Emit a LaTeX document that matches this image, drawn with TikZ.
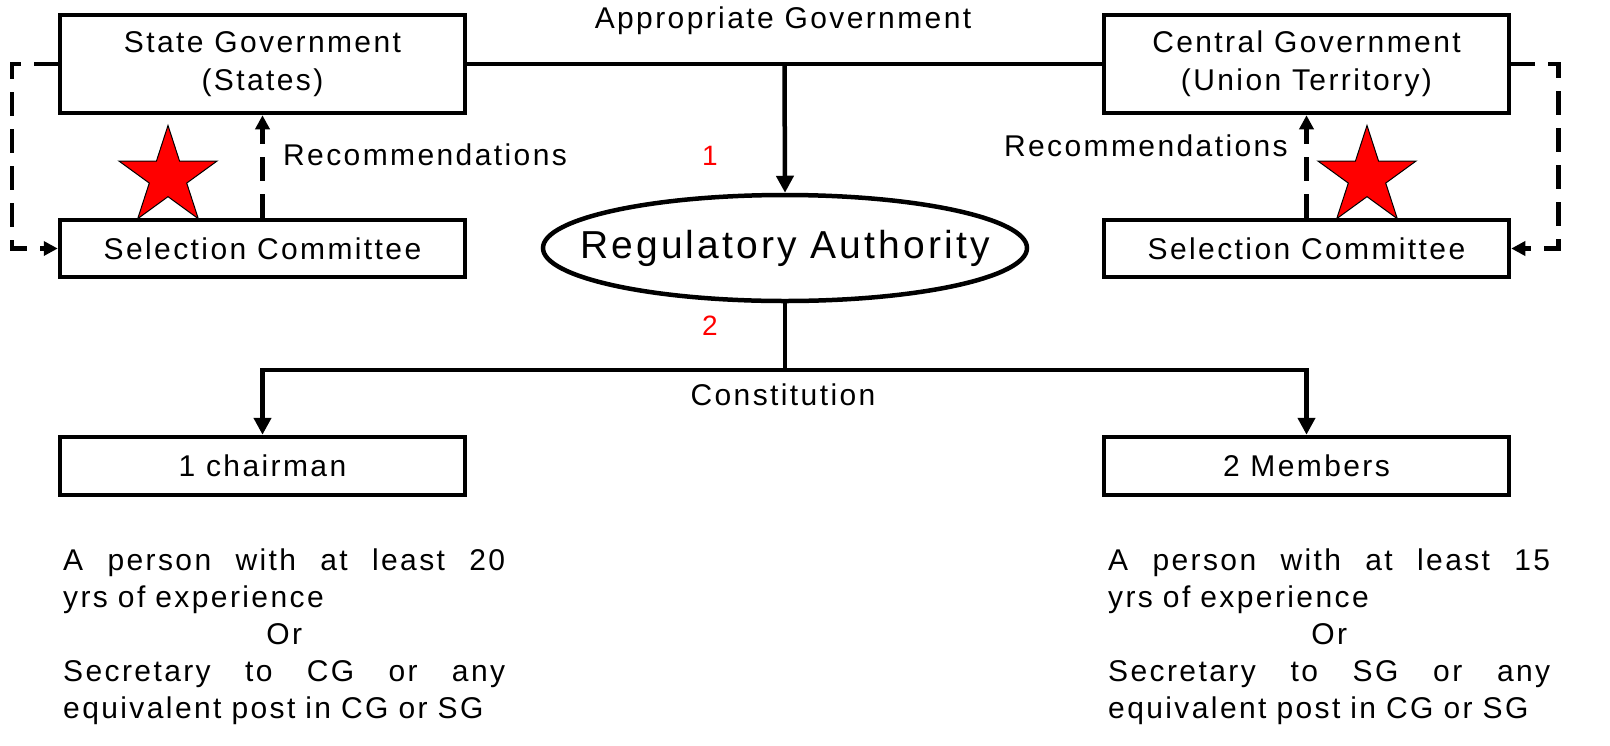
\documentclass[tikz,border=0pt]{standalone}
\usepackage{fontspec}
\setmainfont[LetterSpace=8]{Liberation Sans}
\usetikzlibrary{shapes.geometric,arrows.meta,calc}
\newcommand{\spreadline}[1]{\leavevmode\hbox to 442pt{#1}}
\begin{document}
\begin{tikzpicture}[x=1pt,y=-1pt,
  box/.style={draw,line width=4.5pt,minimum width=405pt,inner sep=0pt,align=center,font=\fontsize{30}{38}\selectfont},
  lbl/.style={inner sep=0pt,font=\fontsize{30}{37}\selectfont},
  num/.style={inner sep=0pt,text=red,font=\fontsize{28}{34}\selectfont},
  body/.style={inner sep=0pt,anchor=north west,text width=442pt,align=left,font=\fontsize{30}{37}\selectfont},
  conn/.style={line width=4.5pt},
  arr/.style={line width=4.5pt,-{Triangle[length=17pt,width=17pt]}},
  darr/.style={line width=4.5pt,dash pattern=on 24pt off 13pt,-{Triangle[length=14pt,width=14pt]}},
  redstar/.style={star,star points=5,star point ratio=2.618,minimum size=103pt,inner sep=0pt,fill=red,draw=black,line width=1pt}
]
\useasboundingbox (0,0) rectangle (1610,745);
% boxes
\node[box,minimum height=98pt] (sg) at (262.5,64) {State Government\\(States)};
\node[box,minimum height=98pt] (cg) at (1306.5,64) {Central Government\\(Union Territory)};
\node[box,minimum height=57pt] (scl) at (262.5,248.5) {Selection Committee};
\node[box,minimum height=57pt] (scr) at (1306.5,248.5) {Selection Committee};
\node[box,minimum height=58pt] (ch) at (262.5,466) {1 chairman};
\node[box,minimum height=58pt] (mem) at (1306.5,466) {2 Members};
\node[draw,ellipse,line width=4.5pt,minimum width=484pt,minimum height=106pt,inner sep=0pt,font=\fontsize{39}{46}\selectfont] (ra) at (785,248) {\makebox[0pt]{Regulatory Authority}};
% stars
\node[redstar] (st1) at (168,177) {};
\node[redstar] (st2) at (1367,177) {};
% labels
\node[lbl] (ag) at (783,21) {Appropriate Government};
\node[lbl,anchor=west] (rec1) at (283,155) {Recommendations};
\node[lbl,anchor=east] (rec2) at (1288,146) {Recommendations};
\node[lbl] (con) at (783,395) {Constitution};
\node[num] (n1) at (710,156) {1};
\node[num] (n2) at (710,326) {2};
% top connectors
\draw[conn] (sg.east) -- (cg.west);
\coordinate (tj) at ($(sg.east)!0.5!(cg.west)$);
\draw[arr] (tj) -- (ra.north);
% recommendations
\draw[darr] (scl.north) -- (sg.south);
\draw[darr] (scr.north) -- (cg.south);
% dashed loops
\draw[darr] (sg.west) -- ++(-46,0) |- (scl.west);
\draw[darr] (cg.east) -- ++(47,0) |- (scr.east);
% constitution
\draw[conn] (ra.south) -- (785,370) coordinate (bj);
\draw[arr] (bj) -| (ch.north);
\draw[arr] (bj) -| (mem.north);
% body text
\node[body] (t1) at (63,549) {\spreadline{A\hfill person\hfill with\hfill at\hfill least\hfill 20}\\yrs of experience\\\spreadline{\hfil Or\hfil}\\\spreadline{Secretary\hfill to\hfill CG\hfill or\hfill any}\\equivalent post in CG or SG};
\node[body] (t2) at (1108,549) {\spreadline{A\hfill person\hfill with\hfill at\hfill least\hfill 15}\\yrs of experience\\\spreadline{\hfil Or\hfil}\\\spreadline{Secretary\hfill to\hfill SG\hfill or\hfill any}\\equivalent post in CG or SG};
\end{tikzpicture}
\end{document}
